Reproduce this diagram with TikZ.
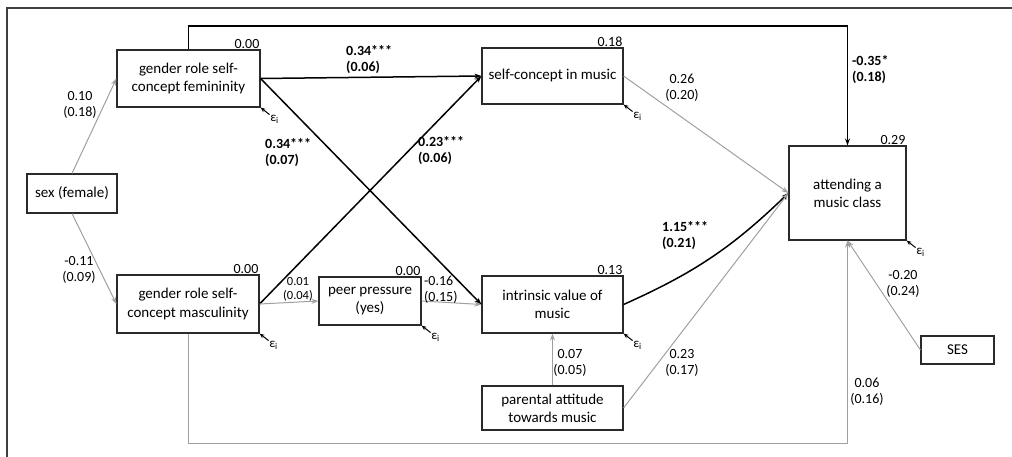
\documentclass[tikz,border=0pt]{standalone}
\usepackage{fontspec}
\setmainfont{Carlito}
\usetikzlibrary{arrows.meta}

\begin{document}
\begin{tikzpicture}[x=1pt,y=-1pt,
  varbox/.style={draw=boxline,line width=1.1pt,align=center,inner sep=0pt,font=\fontsize{15}{18}\selectfont},
  sig/.style={black,line width=1.5pt,-{Stealth[length=7pt,width=5pt]}},
  nsig/.style={pathgrey,line width=1pt,-{Stealth[length=7pt,width=5pt]}},
  coef/.style={align=center,inner sep=0pt,font=\fontsize{14}{16}\selectfont},
  coefb/.style={align=left,anchor=west,inner sep=0pt,font=\fontsize{14}{16}\selectfont\bfseries},
  rsq/.style={anchor=south east,inner sep=1pt,font=\fontsize{14}{15}\selectfont},
  errlabel/.style={inner sep=0.5pt,font=\fontsize{13}{13}\selectfont},
  errarrow/.style={black,line width=1pt,-{Stealth[length=5pt,width=4pt]}}]
\definecolor{boxline}{HTML}{2A2A2A}
\definecolor{pathgrey}{HTML}{A0A0A0}
\definecolor{framegrey}{HTML}{404040}
\useasboundingbox (0,0) rectangle (1012,457);
\draw[framegrey,line width=1.3pt] (7,457) -- (7,8) -- (1012,8);

% variables
\node[varbox,minimum width=90pt,minimum height=39pt] (sex) at (72,193.5) {sex (female)};
\node[varbox,minimum width=143pt,minimum height=57pt] (fem) at (188.5,78.5) {gender role self-\\concept femininity};
\node[varbox,minimum width=142pt,minimum height=58pt] (masc) at (188,304) {gender role self-\\concept masculinity};
\node[varbox,minimum width=102pt,minimum height=48pt] (peer) at (370,301) {peer pressure\\(yes)};
\node[varbox,minimum width=141pt,minimum height=56pt] (selfmus) at (552.5,76) {self-concept in music};
\node[varbox,minimum width=141pt,minimum height=57pt] (intr) at (552.5,304.5) {intrinsic value of\\music};
\node[varbox,minimum width=141pt,minimum height=44pt] (par) at (552.5,408) {parental attitude\\towards music};
\node[varbox,minimum width=117pt,minimum height=94pt] (attend) at (847.5,193) {attending a\\music class};
\node[varbox,minimum width=73pt,minimum height=28pt] (ses) at (957.5,350) {SES};

% explained variance
\node[rsq] at (fem.north east) {0.00};
\node[rsq] at (masc.north east) {0.00};
\node[rsq] at (peer.north east) {0.00};
\node[rsq] at (selfmus.north east) {0.18};
\node[rsq] at (intr.north east) {0.13};
\node[rsq] at (attend.north east) {0.29};

% error terms
\foreach \v in {fem,masc,peer,selfmus,intr,attend}
{ \node[errlabel,anchor=north west] (e\v) at ([shift={(9,7)}]\v.south east) {ε\textsubscript{i}};
  \draw[errarrow] (e\v.north west) -- (\v.south east);}

% paths
\draw[nsig] (sex.north) -- (fem.west);
\draw[nsig] (sex.south) -- (masc.west);
\draw[sig] (fem.north) -- (fem.north |- 0,26) -| (attend.north);
\draw[sig] (fem.east) -- (selfmus.west);
\draw[sig] (fem.east) -- (intr.west);
\draw[sig] (masc.east) -- (selfmus.west);
\draw[nsig] (masc.east) -- (peer.west);
\draw[nsig] (peer.east) -- (intr.west);
\draw[nsig] (par.north) -- (intr.south);
\draw[sig] (intr.east) to[bend right=10] (attend.west);
\draw[nsig] (selfmus.east) -- (attend.west);
\draw[nsig] (par.east) -- (attend.west);
\draw[nsig] (ses.west) -- (attend.south);
\draw[nsig] (masc.south) -- (masc.south |- 0,443) -| (attend.south);

% coefficients
\node[coef] at (80,105) {0.10\\(0.18)};
\node[coef] at (79,270) {-0.11\\(0.09)};
\node[coefb] at (346,60) {0.34***\\(0.06)};
\node[coefb] at (265,153) {0.34***\\(0.07)};
\node[coefb] at (418,151) {0.23***\\(0.06)};
\node[coefb] at (662,236) {1.15***\\(0.21)};
\node[coefb] at (852,70) {-0.35*\\(0.18)};
\node[coef,font=\fontsize{12.5}{14}\selectfont] at (298,289) {0.01\\(0.04)};
\node[coef,align=left,anchor=west] at (424,290) {-0.16\\(0.15)};
\node[coef] at (570,363) {0.07\\(0.05)};
\node[coef] at (682,363) {0.23\\(0.17)};
\node[coef] at (682,88) {0.26\\(0.20)};
\node[coef] at (867,392) {0.06\\(0.16)};
\node[coef] at (903,284) {-0.20\\(0.24)};
\end{tikzpicture}
\end{document}
